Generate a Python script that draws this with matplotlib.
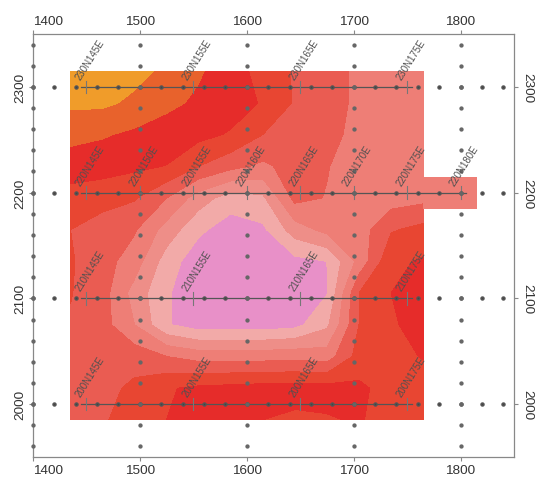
import numpy as np
import matplotlib
matplotlib.use("Agg")
import matplotlib.pyplot as plt

plt.rcParams['font.family'] = ['Liberation Sans', 'DejaVu Sans']

# === contour grid ===
grid_x = [1435, 1465, 1495, 1525, 1555, 1585, 1615, 1645, 1675, 1705, 1735, 1765]
grid_y = [2315, 2285, 2255, 2225, 2195, 2165, 2135, 2105, 2075, 2045, 2015, 1985]
grid_z = [
    [9.0, 8.8, 8.3, 7.8, 7.1, 6.5, 5.6, 4.9, 4.4, 3.8, 3.5, 3.5],
    [8.2, 8.2, 7.8, 7.2, 6.85, 6.5, 5.9, 4.9, 4.4, 3.8, 3.5, 3.5],
    [7.3, 7.1, 6.8, 6.6, 6.3, 5.9, 5.0, 4.6, 4.3, 3.7, 3.4, 3.4],
    [6.5, 6.4, 6.2, 5.97, 5.0, 4.3, 3.8, 4.4, 4.05, 3.5, 3.5, 3.5],
    [5.6, 5.4, 5.1, 4.0, 2.5, 1.5, 1.8, 4.3, 3.95, 3.4, 3.5, 3.7],
    [5.0, 4.5, 4.1, 2.6, 1.2, 0.5, 0.8, 2.5, 3.3, 3.5, 4.9, 5.3],
    [5.1, 4.4, 3.5, 1.5, 0.4, 0.3, 0.4, 0.7, 1.0, 3.3, 5.8, 6.1],
    [5.05, 4.4, 2.6, 1.1, 0.4, 0.2, 0.2, 0.4, 0.95, 5.0, 6.0, 6.4],
    [4.9, 4.4, 3.0, 1.1, 0.5, 0.5, 0.5, 0.7, 1.8, 5.0, 5.9, 6.3],
    [4.5, 4.5, 4.6, 4.0, 3.6, 3.6, 3.6, 3.7, 3.5, 5.4, 5.7, 6.05],
    [4.4, 4.7, 5.2, 5.9, 6.2, 6.3, 6.4, 6.4, 6.4, 6.2, 5.6, 5.5],
    [4.4, 4.9, 5.4, 6.0, 6.3, 6.3, 6.0, 5.8, 5.9, 6.1, 5.5, 5.4],
]
# small extra patch east of line 220N
ext_x = [1765, 1815]
ext_y = [2185, 2215]
ext_z = [[3.5, 3.5], [3.5, 3.5]]

levels = [-1, 1, 2, 3, 4, 5, 6, 7, 8, 10]
band_colors = ['#E890C8', '#F2AAA8', '#EE8E88', '#EE7E76', '#EA5C52',
               '#E84632', '#E62C2A', '#E8622C', '#F09C2A']

# === survey layout ===
line_y = [2300, 2200, 2100, 2000]
line_start = [1445, 1445, 1445, 1445]
line_end = [1755, 1805, 1755, 1755]
line_stations = [1400, 1420, 1440, 1460, 1480, 1500, 1520, 1540, 1560, 1580, 1600, 1620,
                 1640, 1660, 1680, 1700, 1720, 1740, 1760, 1780, 1800, 1820, 1840]
column_x = [1400, 1500, 1600, 1700, 1800]
column_stations = [1960, 1980, 2000, 2020, 2040, 2060, 2080, 2100, 2120, 2140, 2160,
                   2180, 2200, 2220, 2240, 2260, 2280, 2300, 2320, 2340]

label_x = [1450, 1550, 1650, 1750,
           1450, 1500, 1550, 1600, 1650, 1700, 1750, 1800,
           1450, 1550, 1650, 1750,
           1450, 1550, 1650, 1750]
label_y = [2300] * 4 + [2200] * 8 + [2100] * 4 + [2000] * 4
label_text = ["230N145E", "230N155E", "230N165E", "230N175E",
              "220N145E", "220N150E", "220N155E", "220N160E",
              "220N165E", "220N170E", "220N175E", "220N180E",
              "210N145E", "210N155E", "210N165E", "210N175E",
              "200N145E", "200N155E", "200N165E", "200N175E"]

fig = plt.figure(figsize=(5.38, 4.81), dpi=100)
ax = fig.add_axes([0.0613, 0.0478, 0.8941, 0.8794])

ax.contourf(grid_x, grid_y, np.array(grid_z), levels=levels, colors=band_colors, zorder=1)
ax.contourf(ext_x, ext_y, np.array(ext_z), levels=levels, colors=band_colors, zorder=1)

# lines + station ticks
for y, x0, x1 in zip(line_y, line_start, line_end):
    ax.plot([x0, x1], [y, y], color='#555555', lw=0.9, zorder=2)
for x, y in zip(label_x, label_y):
    ax.plot([x, x], [y - 6, y + 6], color='#777777', lw=0.8, zorder=2)

# station dots
for y in line_y:
    ax.plot(line_stations, [y] * len(line_stations), 'o', ms=2.2, color='#444444',
            mec='#555555', zorder=3, clip_on=False)
for x in column_x:
    ax.plot([x] * len(column_stations), column_stations, 'o', ms=2.1, color='#666666',
            mec='#666666', zorder=3, clip_on=False)

for x, y, t in zip(label_x, label_y, label_text):
    ax.annotate(t, (x, y), xytext=(-4, 6), textcoords='offset pixels',
                rotation=58, rotation_mode='anchor', ha='left', va='bottom',
                fontsize=7, color='#505050', zorder=4)

ax.set_xlim(1400, 1850)
ax.set_ylim(1950, 2350)
ax.set_xticks([1400, 1500, 1600, 1700, 1800])
ax.set_yticks([2000, 2100, 2200, 2300])
ax.tick_params(axis='both', which='both', top=True, bottom=True, left=True, right=True,
               labeltop=True, labelbottom=True, labelleft=True, labelright=True,
               direction='out', length=3, width=0.8, color='#888888',
               labelsize=9.7, labelcolor='#333333', pad=2)
for t in ax.yaxis.get_major_ticks():
    t.label1.set_rotation(90)
    t.label1.set_va('center')
    t.label2.set_rotation(270)
    t.label2.set_va('center')
xt = ax.xaxis.get_major_ticks()
xt[0].label1.set_ha('left')
xt[0].label2.set_ha('left')
for s in ax.spines.values():
    s.set_color('#888888')
    s.set_linewidth(0.9)

fig.savefig("out.png", dpi=100)
